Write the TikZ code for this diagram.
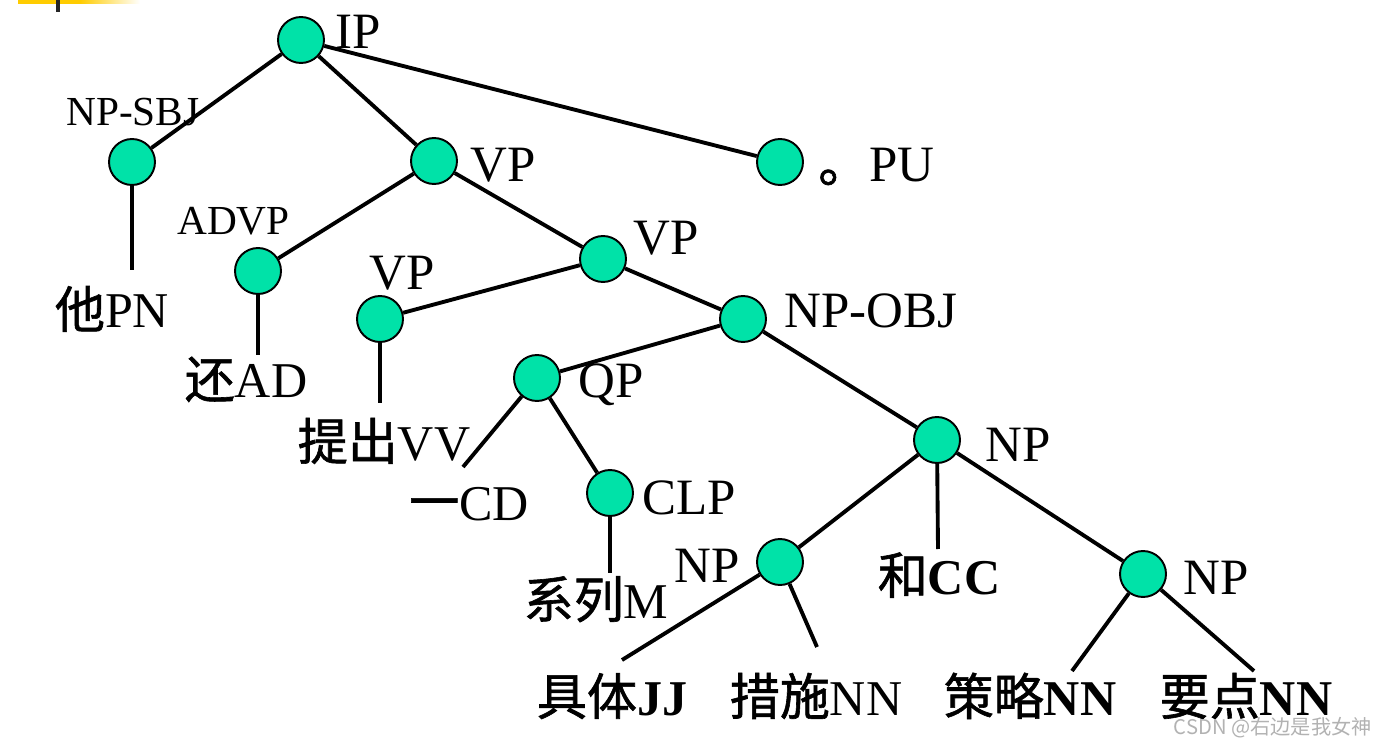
\documentclass[tikz,border=0pt]{standalone}
\usepackage{fontspec}
\setmainfont{Liberation Serif}
\newfontfamily\cjk{Noto Sans CJK SC}[FakeBold=1.2]
\newfontfamily\wmfont{Noto Sans CJK SC}
\usepackage{xcolor}
\usepackage{tikz}
\definecolor{nodeg}{RGB}{0,226,168}
\definecolor{slidey}{RGB}{255,204,0}

\begin{document}
\begin{tikzpicture}[x=0.02cm, y=-0.02cm,
  tnode/.style={circle, draw=black, line width=1.1pt, fill=nodeg, minimum size=0.92cm, inner sep=0pt},
  tlab/.style={inner sep=0pt, anchor=base west, font=\fontsize{29}{31}\selectfont},
  slab/.style={tlab, font=\fontsize{23.5}{26}\selectfont},
  leaf/.style={inner sep=0pt, anchor=base, font=\fontsize{28.5}{30}\selectfont},
  branch/.style={line width=2.2pt}]
\useasboundingbox (0,0) rectangle (1386,746);

\fill[slidey] (18,0) rectangle (80,4);
\shade[left color=slidey, right color=white] (80,0) rectangle (140,4);
\fill[black!85] (56,0) rectangle (60,12);

\foreach \name/\x/\y in {ip/301/40, sbj/132/162, vp1/434/161, pu/780/162,
                         advp/258/271, vp2/603/259, vp3/380/319, obj/743/319,
                         qp/537/378, np/937/440, clp/610/493, npl/780/562, npr/1143/574}
  \node[tnode] (\name) at (\x,\y) {};

\foreach \name/\x/\y/\txt in {ipl/335/49/IP, vp1l/470/182/VP, vp2l/633/255/VP,
                              vp3l/369/290/VP, objl/784/328/NP-OBJ, qpl/578/398/QP,
                              npl0/985/461/NP, clpl/642/514/CLP, npll/674/582/NP,
                              nprl/1183/594/NP}
  \node[tlab] (\name) at (\x,\y) {\txt};
\node[slab] (sbjl) at (66,126) {NP-SBJ};
\node[slab] (advpl) at (177,235) {ADVP};
\node[tlab] (pul) at (818,182) {{\cjk 。}PU};

\node[leaf] (pn) at (112,328) {{\cjk 他}PN};
\node[leaf] (ad) at (246,398) {{\cjk 还}AD};
\node[leaf] (vv) at (384,460) {{\cjk 提出}VV};
\node[leaf] (cd) at (469,520) {{\cjk 一}CD};
\node[leaf] (m) at (596,618) {{\cjk 系列}M};
\node[leaf] (cc) at (939,594) {{\cjk 和}\textbf{CC}};
\node[leaf] (jj) at (612,715) {{\cjk 具体}\textbf{JJ}};
\node[leaf] (nn) at (816,715) {{\cjk 措施}NN};
\node[leaf] (cl) at (1030,715) {{\cjk 策略}\textbf{NN}};
\node[leaf] (yd) at (1246,715) {{\cjk 要点}\textbf{NN}};

\foreach \name/\x/\y in {pnE/132/270, adE/258/355, vvE/380/403, cdE/463/467,
                         mE/610/573, jjE/622/660, nnE/817/647, ccE/938/549,
                         clE/1072/671, ydE/1254/671}
  \coordinate (\name) at (\x,\y);

\foreach \a/\b in {ip/sbj, ip/vp1, ip/pu, vp1/advp, vp1/vp2, vp2/vp3, vp2/obj,
                   obj/qp, obj/np, qp/clp, np/npl, np/npr, sbj/pnE, advp/adE,
                   vp3/vvE, qp/cdE, clp/mE, npl/jjE, npl/nnE, np/ccE, npr/clE, npr/ydE}
  \draw[branch] (\a) -- (\b);

\node[font=\wmfont\fontsize{11.5}{12}\selectfont, text=gray!60, anchor=base east, inner sep=0pt]
  (wm) at (1372,734) {CSDN @右边是我女神};
\end{tikzpicture}
\end{document}
